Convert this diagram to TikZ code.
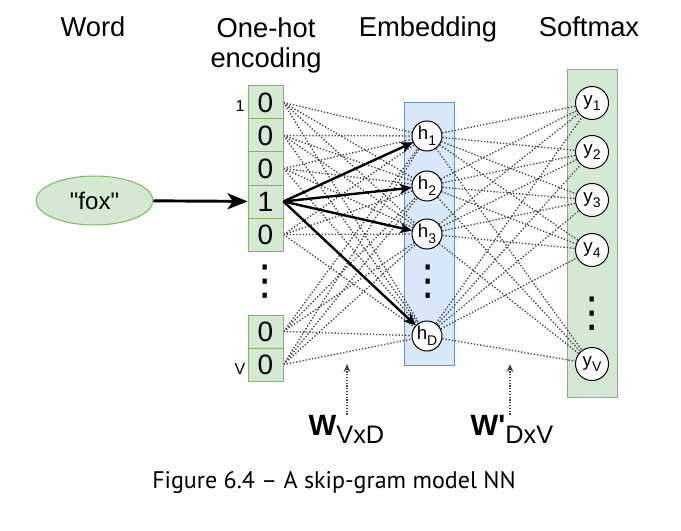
\documentclass[tikz,border=0pt]{standalone}
\usepackage{fontspec}
\setmainfont{Liberation Sans}
\newfontfamily\captionfont{PT Sans}
\newfontfamily\symfont{DejaVu Sans}
\usetikzlibrary{shapes.geometric,arrows.meta,backgrounds}
\definecolor{hotfill}{HTML}{D5E8D4}
\definecolor{hotborder}{HTML}{82B366}
\definecolor{embfill}{HTML}{DAE8FC}
\definecolor{embborder}{HTML}{6C8EBF}
\definecolor{wirecolor}{HTML}{444444}
\newcommand{\lowsub}[1]{\raisebox{-0.3em}{\fontsize{10.5}{10.5}\selectfont #1}}

\begin{document}
\begin{tikzpicture}[x=0.75pt,y=-0.75pt,
  bitbox/.style={draw=hotborder,fill=hotfill,line width=0.75pt,minimum width=26.25pt,minimum height=24.75pt,inner sep=0pt,font=\fontsize{21}{21}\selectfont},
  neuron/.style={circle,draw,fill=white,line width=0.75pt,minimum size=22.5pt,inner sep=0pt,font=\fontsize{14}{14}\selectfont},
  layerbox/.style={line width=0.75pt,inner sep=0pt,minimum width=37.5pt},
  heading/.style={font=\fontsize{20.5}{22.5}\selectfont,align=center},
  vdotsbox/.style={inner sep=0pt,font=\symfont\fontsize{31}{31}\selectfont},
  wire/.style={wirecolor,line width=1pt,dash pattern=on 1pt off 1.4pt},
  hotline/.style={black,line width=1.8pt,-{Stealth[length=9pt,width=8pt,inset=2.5pt]}},
  pointer/.style={wirecolor,line width=0.9pt,dash pattern=on 0.9pt off 1.2pt,-{Stealth[length=6pt,width=5pt]}}]
\useasboundingbox (0,0) rectangle (681,531);

% headings
\node[heading,anchor=base] (hword) at (93,37) {Word};
\node[heading,anchor=north,inner sep=0pt] (hhot) at (266,17) {One-hot\\encoding};
\node[heading,anchor=base] (hemb) at (428,37) {Embedding};
\node[heading,anchor=base] (hsoft) at (589,37) {Softmax};

% input word
\node[ellipse,draw=hotborder,fill=hotfill,line width=0.75pt,minimum width=87.75pt,minimum height=36.75pt,font=\fontsize{18}{18}\selectfont] (fox) at (94.5,200.5) {\textquotedbl fox\textquotedbl};

% one-hot vector
\foreach \d/\y/\n in {0/102.5/b1,0/135.5/b2,0/168.5/b3,1/201.5/b4,0/234.5/b5,0/331.5/b6,0/364.5/b7}
  \node[bitbox] (\n) at (265.5,\y) {\d};
\node[font=\fontsize{12}{12}\selectfont] (ifirst) at (240,106) {1};
\node[font=\fontsize{12}{12}\selectfont] (ilast) at (240,369) {V};
\node[vdotsbox] (bdots) at (265,282) {⋮};

% hidden units
\foreach \s/\y/\n in {1/136/h1,2/186/h2,3/234/h3,D/336/h4}
  \node[neuron] (\n) at (427,\y) {h\lowsub{\s}};
\node[vdotsbox] (hdots) at (428,282) {⋮};

% output units
\foreach \s/\y/\n in {1/103/y1,2/152/y2,3/200/y3,4/250/y4,V/364/y5}
  \node[neuron,minimum size=24.75pt] (\n) at (592,\y) {y\lowsub{\s}};
\node[vdotsbox] (ydots) at (592,314) {⋮};

\begin{scope}[on background layer]
  \node[layerbox,draw=embborder,fill=embfill,minimum height=196.5pt] (emb) at (429,234) {};
  \node[layerbox,draw=hotborder,fill=hotfill,minimum height=245.25pt] (soft) at (592,233.5) {};
  \foreach \a in {b1,b2,b3,b4,b5,b6,b7}
    \foreach \h in {h1,h2,h3,h4}
      \draw[wire] (\a.east) -- (\h);
  \foreach \h in {h1,h2,h3,h4}
    \foreach \o in {y1,y2,y3,y4,y5}
      \draw[wire] (\h) -- (\o);
\end{scope}

% active weights
\foreach \h in {h1,h2,h3,h4}
  \draw[hotline] (b4.east) -- (\h);
\draw[black,line width=2.2pt,-{Stealth[length=15pt,width=12pt,inset=4pt]}] (fox) -- (b4);

% weight matrices
\node[anchor=base,inner sep=0pt,font=\fontsize{22}{22}\selectfont] (wv) at (346.5,435) {\textbf{W}\raisebox{-6pt}{\fontsize{19}{19}\selectfont VxD}};
\node[anchor=base,inner sep=0pt,font=\fontsize{22}{22}\selectfont] (wd) at (512,435) {\textbf{W\textquotesingle}\raisebox{-6pt}{\fontsize{19}{19}\selectfont DxV}};
\coordinate (wvtip) at (347,364);
\coordinate (wdtip) at (510,364);
\draw[pointer] (wv.north -| wvtip) -- (wvtip);
\draw[pointer] (wd.north -| wdtip) -- (wdtip);

\node[anchor=base,font=\captionfont\fontsize{18}{18}\selectfont] (caption) at (334,488) {Figure 6.4 – A skip-gram model NN};
\end{tikzpicture}
\end{document}
